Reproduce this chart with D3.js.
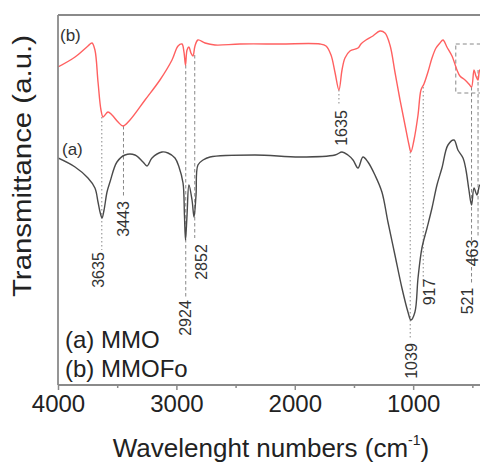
<!DOCTYPE html>
<html><head><meta charset="utf-8">
<script src="https://cdn.jsdelivr.net/npm/d3@7/dist/d3.min.js"></script>
<style>
html,body{margin:0;padding:0;background:#fff;}
svg{display:block;font-family:"Liberation Sans",Arial,sans-serif;}
</style></head>
<body>
<svg id="chart" width="480" height="462"></svg>
<script>
// ---- data (wavenumber in cm^-1, transmittance in a.u.) ----
const wnB = [4000,3856,3747,3713,3688,3662,3637,3620,3603,3578,3544,3493,3451,3392,3265,3139,3037,2986,2953,2936,2923,2910,2894,2877,2860,2843,2818,2758,2674,2463,2125,1787,1736,1694,1661,1627,1601,1576,1534,1466,1441,1399,1340,1280,1238,1196,1154,1111,1069,1035,1019,993,959,934,909,875,841,807,774,748,715,672,630,605,562,529,507,486,470,453,436,410];
const tB  = [317,327,338,341,334,302,274,267,269,272,269,262,258,264,284,304,324,338,340,332,319,334,337,331,328,338,344,341,339,340,340,340,338,329,312,294,314,326,333,336,340,344,348,353,351,339,312,284,259,239,232,244,269,294,300,312,326,336,341,344,337,328,314,308,304,300,297,314,308,304,314,312];

const wnA = [4000,3856,3747,3688,3662,3645,3628,3611,3586,3561,3502,3434,3350,3282,3248,3206,3122,3071,3012,2978,2944,2932,2923,2910,2894,2868,2851,2834,2818,2775,2716,2336,1956,1660,1601,1551,1508,1466,1424,1382,1323,1264,1213,1154,1095,1044,1019,985,959,926,883,841,799,757,706,655,622,579,554,529,507,486,461,436,410];
const tA  = [226,217,206,196,182,172,166,174,192,202,222,229,229,222,218,226,232,231,226,217,201,169,144,169,199,184,167,189,219,224,227,229,227,229,232,229,224,216,227,222,209,192,162,129,96,72,64,72,106,136,156,176,199,216,239,244,234,226,214,194,179,196,189,199,194];

// peak annotations
const peakText  = ["3635","3443","2924","2852","1635","1039","917","521","463"];
const peakWn    = [3630,3447,2921,2845,1627,1025,915,507,452];      // guide line position
const labelWn   = [3660,3447,2929,2790,1610,1020,866,546,503];      // label centre
const lineTop   = [267,258,319,329,294,232,297,297,314];            // a.u.
const lineBot   = [134,186,87,146,279,44,101,99,146];
const labelMid  = [114,165,66,122,256,23,92,83,131];
const lineDash  = ["d","D","D","D","d","d","d","D","D"];

const xTicksMajor = [4000,3000,2000,1000];
const xTicksMinor = [3500,2500,1500,500];

// ---- drawing ----
const svg = d3.select("#chart");
const x = d3.scaleLinear().domain([4000,400]).range([58,484.2]);
const y = d3.scaleLinear().domain([0,370]).range([384,14]);
const axisCol = "#8a8a8a";

svg.append("defs").append("clipPath").attr("id","clip")
  .append("rect").attr("x",58).attr("y",14).attr("width",422).attr("height",370);

const g = svg.append("g").attr("clip-path","url(#clip)");

// dashed zoom box
g.append("rect").attr("x",x(640)).attr("y",y(340)).attr("width",x(380)-x(640)).attr("height",y(291)-y(340))
  .attr("fill","none").attr("stroke","#888").attr("stroke-width",1).attr("stroke-dasharray","4,3");

// guide lines
peakText.forEach((t,i)=>{
  g.append("line").attr("x1",x(peakWn[i])).attr("x2",x(peakWn[i]))
    .attr("y1",y(lineTop[i])).attr("y2",y(lineBot[i]))
    .attr("stroke","#888").attr("stroke-width",1)
    .attr("stroke-dasharray", lineDash[i]==="d" ? "1.5,2.5" : "3.5,2.5");
});

const line = d3.line().x(d=>x(d[0])).y(d=>y(d[1])).curve(d3.curveCatmullRom.alpha(0.5));
g.append("path").datum(wnA.map((w,i)=>[w,tA[i]])).attr("d",line)
  .attr("fill","none").attr("stroke","#4a4a4a").attr("stroke-width",1.4);
g.append("path").datum(wnB.map((w,i)=>[w,tB[i]])).attr("d",line)
  .attr("fill","none").attr("stroke","#ff6060").attr("stroke-width",1.4);

// peak labels
peakText.forEach((t,i)=>{
  svg.append("text").attr("transform",`translate(${x(labelWn[i])+6},${y(labelMid[i])}) rotate(-90)`)
    .attr("text-anchor","middle").attr("font-size",16).attr("fill","#333").text(t);
});

// curve tags
svg.append("text").attr("x",60).attr("y",41).attr("font-size",17).attr("fill","#333").text("(b)");
svg.append("text").attr("x",62).attr("y",155).attr("font-size",17).attr("fill","#333").text("(a)");

// legend
svg.append("text").attr("x",65).attr("y",348).attr("font-size",24).attr("fill","#222").text("(a) MMO");
svg.append("text").attr("x",65).attr("y",377).attr("font-size",24).attr("fill","#222").text("(b) MMOFo");

// frame
svg.append("line").attr("x1",58).attr("x2",480).attr("y1",15).attr("y2",15).attr("stroke",axisCol).attr("stroke-width",1.8);
svg.append("line").attr("x1",58).attr("x2",58).attr("y1",15).attr("y2",385).attr("stroke",axisCol).attr("stroke-width",1.8);

// x axis
const xAxis = d3.axisBottom(x).tickValues(xTicksMajor).tickSize(5).tickFormat(d3.format("d"));
const ax = svg.append("g").attr("transform","translate(0,385)").call(xAxis);
ax.select(".domain").attr("stroke",axisCol).attr("stroke-width",1.8).attr("d","M58,0H480");
ax.selectAll(".tick line").attr("stroke",axisCol).attr("stroke-width",1.5);
ax.selectAll(".tick text").attr("font-size",24).attr("fill","#222").attr("font-family","Liberation Sans, Arial, sans-serif").attr("dy","1.05em").attr("y",2);
const axm = svg.append("g").attr("transform","translate(0,385)")
  .call(d3.axisBottom(x).tickValues(xTicksMinor).tickSize(3).tickFormat(""));
axm.select(".domain").remove();
axm.selectAll(".tick line").attr("stroke",axisCol).attr("stroke-width",1.5);

// axis titles
const xt = svg.append("text").attr("x",271).attr("y",457).attr("text-anchor","middle").attr("font-size",26).attr("fill","#222");
xt.append("tspan").text("Wavelenght numbers (cm");
xt.append("tspan").attr("font-size",14).attr("dy",-12).text("-1");
xt.append("tspan").attr("dy",12).text(")");

svg.append("text").attr("transform","translate(31,166) rotate(-90)").attr("text-anchor","middle")
  .attr("font-size",26).attr("fill","#222")
  .attr("textLength",262).attr("lengthAdjust","spacingAndGlyphs").text("Transmittance (a.u.)");
</script>
</body></html>
